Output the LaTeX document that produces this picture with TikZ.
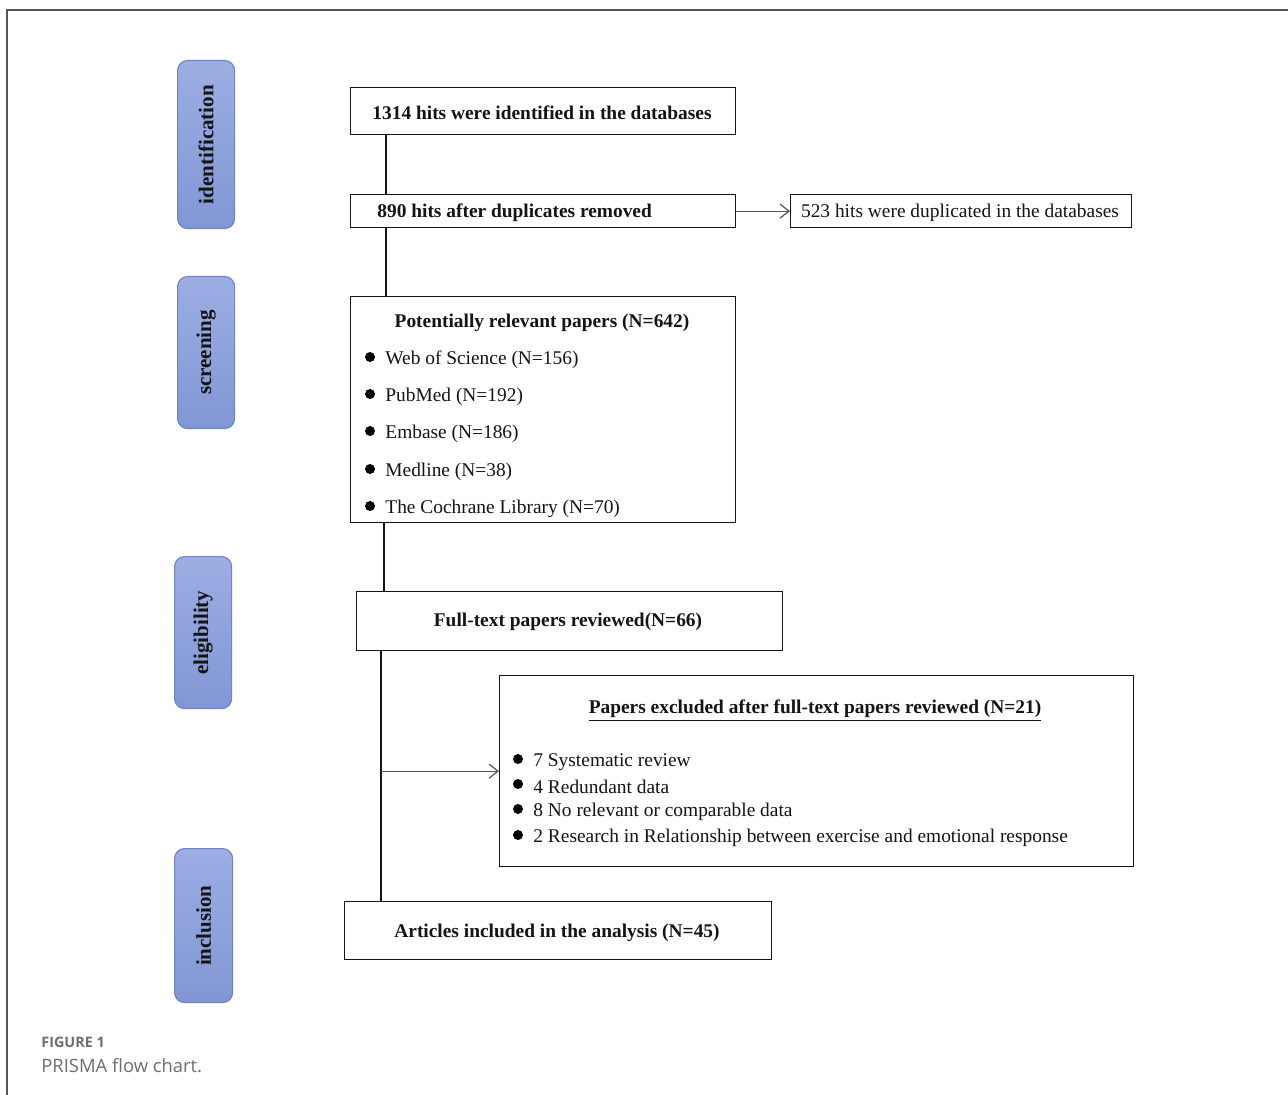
\documentclass[tikz,border=0pt]{standalone}
\usepackage{fontspec}
\setmainfont{Liberation Serif}
\newfontfamily\capfont{Open Sans}
\usetikzlibrary{arrows.meta}
\definecolor{framecol}{HTML}{555555}
\definecolor{stagetop}{HTML}{9CAEE3}
\definecolor{stagebot}{HTML}{8196D4}
\definecolor{stageborder}{HTML}{7185C2}
\definecolor{inkcol}{HTML}{141414}
\definecolor{capgray}{HTML}{6E6E6E}
\tikzset{
  stage/.style={draw=stageborder, line width=0.6pt, rounded corners=5pt,
    top color=stagetop, bottom color=stagebot, anchor=north west, inner sep=0pt},
  stagetext/.style={rotate=90, font=\fontsize{10.5}{12}\selectfont\bfseries, text=inkcol, inner sep=0pt},
  box/.style={draw=inkcol, line width=0.65pt, anchor=north west, inner sep=0pt},
  btext/.style={font=\fontsize{9.7}{11.6}\selectfont\bfseries, text=inkcol, inner sep=0pt, yshift=-1pt},
  ntext/.style={font=\fontsize{9.7}{11.6}\selectfont, text=inkcol, inner sep=0pt, yshift=-1pt},
  ltext/.style={font=\fontsize{9.7}{11.6}\selectfont, text=inkcol, inner sep=0pt, anchor=west, yshift=-1pt},
  stext/.style={font=\fontsize{9.7}{11}\selectfont, text=inkcol, inner sep=0pt, anchor=west, yshift=-1pt},
  dot/.style={circle, fill=black, inner sep=0pt, minimum size=5pt},
  conn/.style={draw=inkcol, line width=0.55pt},
  arr/.style={draw=framecol, line width=0.6pt, -{Straight Barb[length=4.5pt,width=7pt]}},
}
\begin{document}
\begin{tikzpicture}[x=0.5pt,y=-0.5pt]
\useasboundingbox (0,0) rectangle (1288,1095);
\fill[white] (0,0) rectangle (1288,1095);
% frame
\draw[framecol, line width=1pt] (7,1095) -- (7,10) -- (1288,10);

% stages
\node[stage, minimum width=28.5pt, minimum height=84pt] (s1) at (177,60) {};
\node[stagetext] (s1t) at (s1) {identification};
\node[stage, minimum width=28.5pt, minimum height=76pt] (s2) at (177,276) {};
\node[stagetext] (s2t) at (s2) {screening};
\node[stage, minimum width=28.5pt, minimum height=76pt] (s3) at (174,556) {};
\node[stagetext] (s3t) at (s3) {eligibility};
\node[stage, minimum width=29pt, minimum height=77pt] (s4) at (174,848) {};
\node[stagetext] (s4t) at (s4) {inclusion};

% boxes
\node[box, minimum width=192.5pt, minimum height=23.5pt] (b1) at (350,87) {};
\node[btext] (b1t) at (542,111) {1314 hits were identified in the databases};

\node[box, minimum width=192.5pt, minimum height=16.5pt] (b2) at (350,194) {};
\node[btext, anchor=west] (b2t) at (377,211) {890 hits after duplicates removed};

\node[box, minimum width=170.5pt, minimum height=16.5pt] (b3) at (790,194) {};
\node[ntext] (b3t) at (960,211) {523 hits were duplicated in the databases};

\node[box, minimum width=192.5pt, minimum height=113pt] (b4) at (350,296) {};
\node[btext] (b4t) at (542,321) {Potentially relevant papers (N=642)};
\node[dot] (d41) at (370,357) {};
\node[ltext] (l41) at (385,358) {Web of Science (N=156)};
\node[dot] (d42) at (370,394) {};
\node[ltext] (l42) at (385,395) {PubMed (N=192)};
\node[dot] (d43) at (370,431) {};
\node[ltext] (l43) at (385,432) {Embase (N=186)};
\node[dot] (d44) at (370,469) {};
\node[ltext] (l44) at (385,470) {Medline (N=38)};
\node[dot] (d45) at (370,506) {};
\node[ltext] (l45) at (385,507) {The Cochrane Library (N=70)};

\node[box, minimum width=213pt, minimum height=29.5pt] (b5) at (356,591) {};
\node[btext] (b5t) at (568,620) {Full-text papers reviewed(N=66)};

\node[box, minimum width=317pt, minimum height=95.5pt] (b6) at (499,675) {};
\node[btext] (b6t) at (815,709) {\underline{Papers excluded after full-text papers reviewed (N=21)}};
\node[dot] (d61) at (518,759) {};
\node[stext] (l61) at (533,760) {7 Systematic review};
\node[dot] (d62) at (518,784) {};
\node[stext] (l62) at (533,785) {4 Redundant data};
\node[dot] (d63) at (518,809) {};
\node[stext] (l63) at (533,810) {8 No relevant or comparable data};
\node[dot] (d64) at (518,835) {};
\node[stext] (l64) at (533,836) {2 Research in Relationship between exercise and emotional response};

\node[box, minimum width=213.5pt, minimum height=29pt] (b7) at (344,901) {};
\node[btext] (b7t) at (557,931) {Articles included in the analysis (N=45)};

% connectors
\draw[conn] ([xshift=18pt]b1.south west) -- ([xshift=18pt]b2.north west);
\draw[arr] (b2.east) -- (b3.west);
\draw[conn] ([xshift=18pt]b2.south west) -- ([xshift=18pt]b4.north west);
\draw[conn] ([xshift=17pt]b4.south west) -- ([xshift=14pt]b5.north west);
\coordinate (trunk) at ([xshift=12.5pt]b5.south west);
\draw[conn] (trunk) -- ([xshift=18.5pt]b7.north west);
\draw[arr] (b6.west -| trunk) -- (b6.west);

% caption
\node[font=\capfont\bfseries\fontsize{7.2}{8}\selectfont, text=capgray, anchor=west, inner sep=0pt] (cap1) at (41,1042) {FIGURE 1};
\node[font=\capfont\fontsize{9.2}{11}\selectfont, text=capgray, anchor=west, inner sep=0pt] (cap2) at (41,1066) {PRISMA flow chart.};
\end{tikzpicture}
\end{document}
